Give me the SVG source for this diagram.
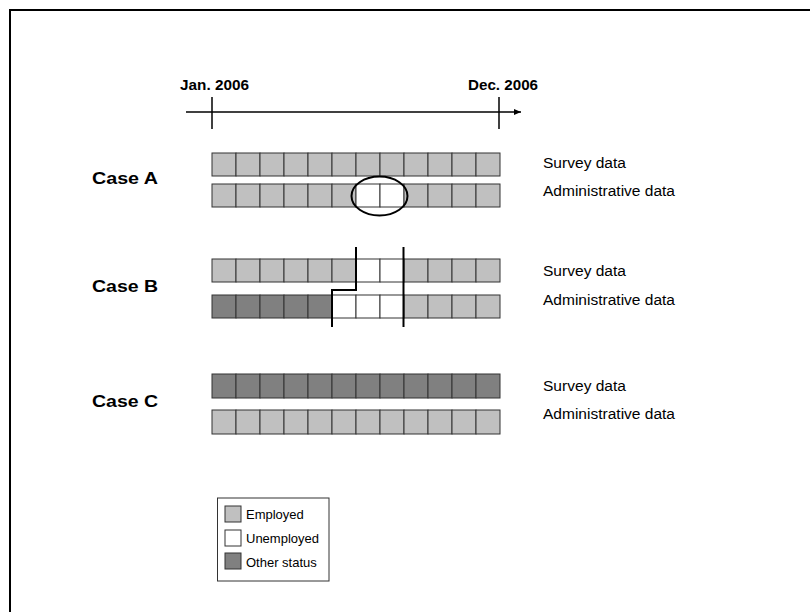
<svg xmlns="http://www.w3.org/2000/svg" width="810" height="612" viewBox="0 0 810 612">
<style>
.e{fill:#C0C0C0;stroke:#333;stroke-width:1}
.u{fill:#FFFFFF;stroke:#333;stroke-width:1}
.o{fill:#808080;stroke:#333;stroke-width:1}
.lbl{font-family:"Liberation Sans",Arial,sans-serif;font-size:14px;fill:#000}
.case{font-family:"Liberation Sans",Arial,sans-serif;font-size:17px;font-weight:bold;fill:#000}
.date{font-family:"Liberation Sans",Arial,sans-serif;font-size:14px;font-weight:bold;fill:#000}
.leg{font-family:"Liberation Sans",Arial,sans-serif;font-size:13px;fill:#000}
.thick{fill:none;stroke:#000;stroke-width:2}
</style>
<defs>
<marker id="arr" markerWidth="8" markerHeight="8" refX="7" refY="4" orient="auto" markerUnits="userSpaceOnUse">
<path d="M0,1 L7,4 L0,7 Z" fill="#000"/>
</marker>
</defs>
<rect x="0" y="0" width="810" height="612" fill="#fff"/>
<rect x="10" y="10" width="820" height="620" fill="none" stroke="#000" stroke-width="2"/>

<g id="timeline">
<text class="date" x="180" y="90" textLength="69" lengthAdjust="spacingAndGlyphs">Jan. 2006</text>
<text class="date" x="468" y="90" textLength="70" lengthAdjust="spacingAndGlyphs">Dec. 2006</text>
<line x1="186" y1="112" x2="521" y2="112" stroke="#000" stroke-width="1.3" marker-end="url(#arr)"/>
<line x1="212" y1="97" x2="212" y2="129" stroke="#000" stroke-width="1.5"/>
<line x1="499" y1="97" x2="499" y2="129" stroke="#000" stroke-width="1.5"/>
</g>

<g id="caseA">
<text class="case" x="92" y="184" textLength="66" lengthAdjust="spacingAndGlyphs">Case A</text>
<g id="caseA-survey">
<rect class="e" x="212" y="153" width="24" height="23"/><rect class="e" x="236" y="153" width="24" height="23"/><rect class="e" x="260" y="153" width="24" height="23"/><rect class="e" x="284" y="153" width="24" height="23"/><rect class="e" x="308" y="153" width="24" height="23"/><rect class="e" x="332" y="153" width="24" height="23"/><rect class="e" x="356" y="153" width="24" height="23"/><rect class="e" x="380" y="153" width="24" height="23"/><rect class="e" x="404" y="153" width="24" height="23"/><rect class="e" x="428" y="153" width="24" height="23"/><rect class="e" x="452" y="153" width="24" height="23"/><rect class="e" x="476" y="153" width="24" height="23"/>
</g>
<g id="caseA-admin">
<rect class="e" x="212" y="184" width="24" height="23"/><rect class="e" x="236" y="184" width="24" height="23"/><rect class="e" x="260" y="184" width="24" height="23"/><rect class="e" x="284" y="184" width="24" height="23"/><rect class="e" x="308" y="184" width="24" height="23"/><rect class="e" x="332" y="184" width="24" height="23"/><rect class="u" x="356" y="184" width="24" height="23"/><rect class="u" x="380" y="184" width="24" height="23"/><rect class="e" x="404" y="184" width="24" height="23"/><rect class="e" x="428" y="184" width="24" height="23"/><rect class="e" x="452" y="184" width="24" height="23"/><rect class="e" x="476" y="184" width="24" height="23"/>
</g>
<ellipse class="thick" cx="379.5" cy="196" rx="28" ry="19.5"/>
<text class="lbl" x="543" y="168" textLength="83" lengthAdjust="spacingAndGlyphs">Survey data</text>
<text class="lbl" x="543" y="196" textLength="132" lengthAdjust="spacingAndGlyphs">Administrative data</text>
</g>

<g id="caseB">
<text class="case" x="92" y="292" textLength="66" lengthAdjust="spacingAndGlyphs">Case B</text>
<g id="caseB-survey">
<rect class="e" x="212" y="259" width="24" height="23"/><rect class="e" x="236" y="259" width="24" height="23"/><rect class="e" x="260" y="259" width="24" height="23"/><rect class="e" x="284" y="259" width="24" height="23"/><rect class="e" x="308" y="259" width="24" height="23"/><rect class="e" x="332" y="259" width="24" height="23"/><rect class="u" x="356" y="259" width="24" height="23"/><rect class="u" x="380" y="259" width="24" height="23"/><rect class="e" x="404" y="259" width="24" height="23"/><rect class="e" x="428" y="259" width="24" height="23"/><rect class="e" x="452" y="259" width="24" height="23"/><rect class="e" x="476" y="259" width="24" height="23"/>
</g>
<g id="caseB-admin">
<rect class="o" x="212" y="295" width="24" height="23"/><rect class="o" x="236" y="295" width="24" height="23"/><rect class="o" x="260" y="295" width="24" height="23"/><rect class="o" x="284" y="295" width="24" height="23"/><rect class="o" x="308" y="295" width="24" height="23"/><rect class="u" x="332" y="295" width="24" height="23"/><rect class="u" x="356" y="295" width="24" height="23"/><rect class="u" x="380" y="295" width="24" height="23"/><rect class="e" x="404" y="295" width="24" height="23"/><rect class="e" x="428" y="295" width="24" height="23"/><rect class="e" x="452" y="295" width="24" height="23"/><rect class="e" x="476" y="295" width="24" height="23"/>
</g>
<text class="lbl" x="543" y="276" textLength="83" lengthAdjust="spacingAndGlyphs">Survey data</text>
<text class="lbl" x="543" y="305" textLength="132" lengthAdjust="spacingAndGlyphs">Administrative data</text>
</g>

<g id="caseC">
<text class="case" x="92" y="407" textLength="66" lengthAdjust="spacingAndGlyphs">Case C</text>
<g id="caseC-survey">
<rect class="o" x="212" y="374" width="24" height="24"/><rect class="o" x="236" y="374" width="24" height="24"/><rect class="o" x="260" y="374" width="24" height="24"/><rect class="o" x="284" y="374" width="24" height="24"/><rect class="o" x="308" y="374" width="24" height="24"/><rect class="o" x="332" y="374" width="24" height="24"/><rect class="o" x="356" y="374" width="24" height="24"/><rect class="o" x="380" y="374" width="24" height="24"/><rect class="o" x="404" y="374" width="24" height="24"/><rect class="o" x="428" y="374" width="24" height="24"/><rect class="o" x="452" y="374" width="24" height="24"/><rect class="o" x="476" y="374" width="24" height="24"/>
</g>
<g id="caseC-admin">
<rect class="e" x="212" y="410" width="24" height="24"/><rect class="e" x="236" y="410" width="24" height="24"/><rect class="e" x="260" y="410" width="24" height="24"/><rect class="e" x="284" y="410" width="24" height="24"/><rect class="e" x="308" y="410" width="24" height="24"/><rect class="e" x="332" y="410" width="24" height="24"/><rect class="e" x="356" y="410" width="24" height="24"/><rect class="e" x="380" y="410" width="24" height="24"/><rect class="e" x="404" y="410" width="24" height="24"/><rect class="e" x="428" y="410" width="24" height="24"/><rect class="e" x="452" y="410" width="24" height="24"/><rect class="e" x="476" y="410" width="24" height="24"/>
</g>
<text class="lbl" x="543" y="391" textLength="83" lengthAdjust="spacingAndGlyphs">Survey data</text>
<text class="lbl" x="543" y="419" textLength="132" lengthAdjust="spacingAndGlyphs">Administrative data</text>
</g>

<g id="connectors">
<path class="thick" d="M356,247 L356,290 L332,290 L332,327"/>
<line class="thick" x1="403.5" y1="247" x2="403.5" y2="327"/>
</g>

<g id="legend">
<rect x="217.5" y="498" width="111.5" height="83" fill="#fff" stroke="#333" stroke-width="1"/>
<rect class="e" x="225" y="506" width="16" height="16"/>
<text class="leg" x="246" y="519">Employed</text>
<rect class="u" x="225" y="530" width="16" height="16"/>
<text class="leg" x="246" y="543">Unemployed</text>
<rect class="o" x="225" y="553" width="16" height="16"/>
<text class="leg" x="246" y="567">Other status</text>
</g>
</svg>
